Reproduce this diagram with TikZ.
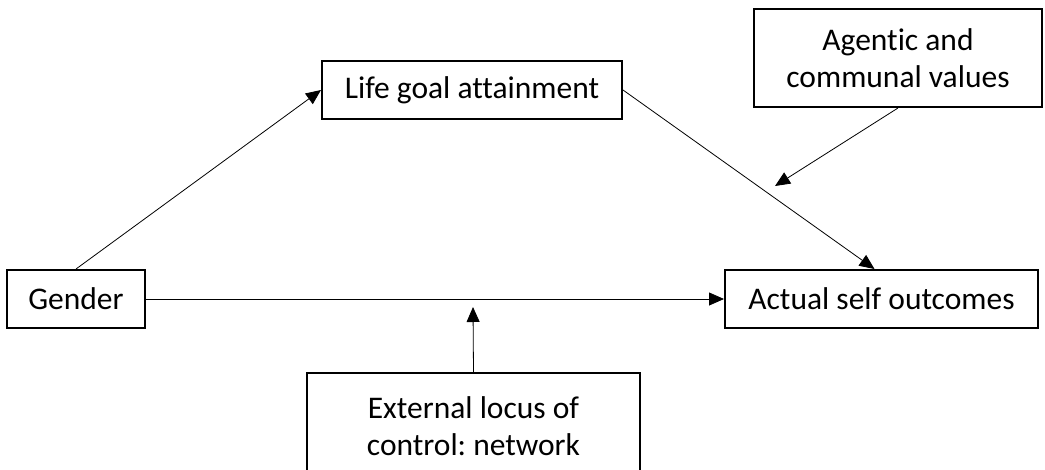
\documentclass[tikz,border=0pt]{standalone}
\usepackage{fontspec}
\setmainfont[Ligatures=NoCommon]{Carlito}
\usetikzlibrary{arrows.meta,calc}
\begin{document}
\frenchspacing
\begin{tikzpicture}[x=1pt,y=-1pt,
  box/.style={draw,line width=2pt,rectangle,inner sep=0pt,align=center,
    font=\fontsize{31.5}{37}\selectfont\frenchspacing},
  conn/.style={line width=0.8pt,-{Triangle[length=15pt,width=13pt]}}]
\useasboundingbox (0,0) rectangle (1045,469);
\clip (0,0) rectangle (1045,469);
\node[box,minimum width=138pt,minimum height=58pt] (gender) at (76,299) {Gender};
\node[box,minimum width=300pt,minimum height=58pt] (life) at (472,90) {Life goal attainment};
\node[box,minimum width=313pt,minimum height=58pt] (actual) at (881.5,299) {Actual self outcomes};
\node[box,minimum width=288pt,minimum height=98pt] (agentic) at (898,58) {Agentic and\\communal values};
\node[box,minimum width=333pt,minimum height=106pt] (ext) at (473.5,426) {External locus of\\control: network};
\coordinate (m1) at (775,186);
\coordinate (m2) at (473,307);
\draw[conn] (gender.north) -- (life.west);
\draw[conn] (gender.east) -- (actual.west);
\draw[conn] (life.east) -- ($(actual.north)+(-7,0)$);
\draw[conn] (agentic.south) -- (m1);
\draw[conn] (ext.north) -- (m2);
\end{tikzpicture}
\end{document}
